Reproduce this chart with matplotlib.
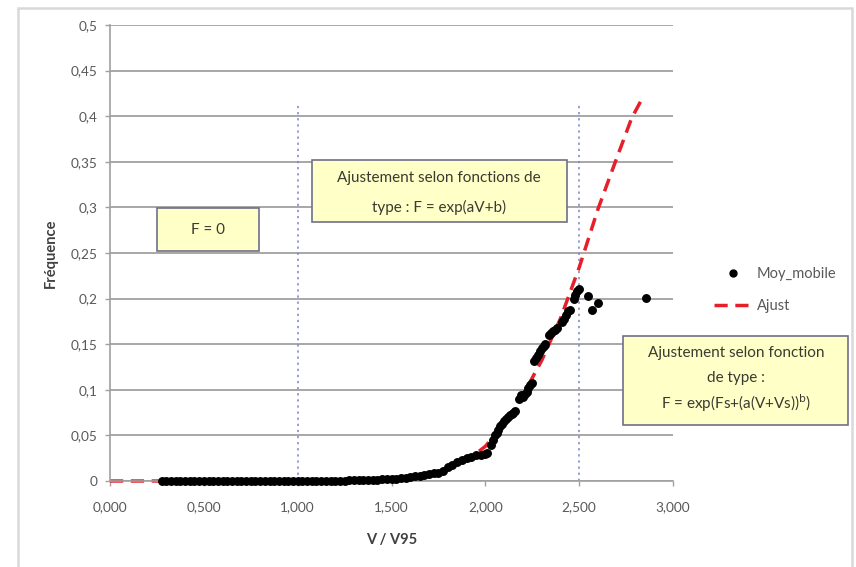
import matplotlib
matplotlib.use("Agg")
import matplotlib.pyplot as plt
from matplotlib.patches import Rectangle
from matplotlib.lines import Line2D

plt.rcParams['font.family'] = ['Lato', 'DejaVu Sans']

# --- moving-average frequency (Moy_mobile) ---
moy_x = [0.275, 0.300, 0.325, 0.350, 0.375, 0.400, 0.425, 0.450, 0.475, 0.500,
         0.525, 0.550, 0.575, 0.600, 0.625, 0.650, 0.675, 0.700, 0.725, 0.750,
         0.775, 0.800, 0.825, 0.850, 0.875, 0.900, 0.925, 0.950, 0.975, 1.000,
         1.025, 1.050, 1.075, 1.100, 1.125, 1.150, 1.175, 1.200, 1.225, 1.250,
         1.275, 1.300, 1.325, 1.350, 1.375, 1.400, 1.425, 1.450, 1.475, 1.500,
         1.525, 1.550, 1.575, 1.600, 1.625, 1.650, 1.675, 1.700, 1.725, 1.750,
         1.775, 1.800, 1.825, 1.850, 1.875, 1.900, 1.925, 1.950, 1.975, 2.000,
         2.010, 2.030, 2.040, 2.050, 2.060, 2.070, 2.080, 2.090, 2.100, 2.110,
         2.120, 2.130, 2.140, 2.150, 2.160, 2.180, 2.190, 2.200, 2.210, 2.220,
         2.230, 2.240, 2.250, 2.260, 2.270, 2.280, 2.290, 2.300, 2.310, 2.320,
         2.340, 2.350, 2.360, 2.370, 2.380, 2.410, 2.420, 2.430, 2.440, 2.450,
         2.470, 2.480, 2.490, 2.500, 2.545, 2.570, 2.600, 2.855]
moy_y = [0.0, 0.0, 0.0, 0.0, 0.0, 0.0, 0.0, 0.0, 0.0, 0.0,
         0.0, 0.0, 0.0, 0.0, 0.0, 0.0, 0.0, 0.0, 0.0, 0.0,
         0.0, 0.0, 0.0, 0.0, 0.0, 0.0, 0.0, 0.0, 0.0, 0.0,
         0.0, 0.0, 0.0, 0.0, 0.0, 0.0, 0.0, 0.0003, 0.0004, 0.0005,
         0.0006, 0.0007, 0.0008, 0.0010, 0.0011, 0.0013, 0.0015, 0.0017, 0.0019, 0.0020,
         0.0025, 0.0030, 0.0035, 0.0040, 0.0050, 0.0060, 0.0070, 0.0080, 0.0085, 0.0090,
         0.0110, 0.0150, 0.0180, 0.0210, 0.0230, 0.0250, 0.0260, 0.0280, 0.0290, 0.0300,
         0.031, 0.040, 0.045, 0.050, 0.053, 0.056, 0.060, 0.063, 0.066, 0.068,
         0.070, 0.072, 0.073, 0.075, 0.077, 0.090, 0.094, 0.092, 0.095, 0.098,
         0.102, 0.105, 0.108, 0.132, 0.135, 0.138, 0.142, 0.146, 0.148, 0.150,
         0.160, 0.162, 0.164, 0.166, 0.168, 0.174, 0.178, 0.182, 0.186, 0.188,
         0.200, 0.204, 0.208, 0.210, 0.203, 0.188, 0.195, 0.201]

# --- fitted curve (Ajust) ---
ajust_x = [0.0, 0.5, 1.0, 1.2, 1.4, 1.6, 1.8, 1.9, 2.0, 2.1, 2.2, 2.3, 2.4,
           2.5, 2.6, 2.7, 2.78, 2.84]
ajust_y = [0.0, 0.0, 0.0, 0.0, 0.001, 0.004, 0.014, 0.022, 0.038, 0.062,
           0.094, 0.132, 0.178, 0.234, 0.298, 0.354, 0.398, 0.421]

x_ticks = [0.0, 0.5, 1.0, 1.5, 2.0, 2.5, 3.0]
x_tick_labels = ['0,000', '0,500', '1,000', '1,500', '2,000', '2,500', '3,000']
y_ticks = [0.0, 0.05, 0.1, 0.15, 0.2, 0.25, 0.3, 0.35, 0.4, 0.45, 0.5]
y_tick_labels = ['0', '0,05', '0,1', '0,15', '0,2', '0,25', '0,3', '0,35', '0,4', '0,45', '0,5']

zone_limits = [1.0, 2.5]

W, H = 856, 567
fig = plt.figure(figsize=(W / 100, H / 100), dpi=100)
ax = fig.add_axes([110 / W, 1 - 481 / H, (673 - 110) / W, (481 - 25) / H])

# outer chart frame
fig.patches.append(Rectangle((18 / W, -0.01), (852 - 18) / W, 1 - 8 / H + 0.01,
                             transform=fig.transFigure, fill=False,
                             edgecolor='#D9D9D9', linewidth=1.8))

grey = '#A0A0A0'
text_grey = '#595959'

ax.set_xlim(0, 3.0)
ax.set_ylim(0, 0.5)
ax.set_xticks(x_ticks)
ax.set_xticklabels(x_tick_labels)
ax.set_yticks(y_ticks)
ax.set_yticklabels(y_tick_labels)
ax.tick_params(axis='both', colors=grey, labelcolor=text_grey, labelsize=9.8,
               length=3.6, width=1.0)
ax.tick_params(axis='y', pad=5.5)
ax.tick_params(axis='x', pad=11)

ax.yaxis.grid(True, color=grey, linewidth=1.3)
ax.set_axisbelow(True)
for side in ['top', 'right']:
    ax.spines[side].set_visible(False)
for side in ['left', 'bottom']:
    ax.spines[side].set_color(grey)
    ax.spines[side].set_linewidth(1.2)

ax.set_xlabel('V / V95', fontsize=10.5, fontweight='bold', color='#404040', labelpad=14)
ax.set_ylabel('Fréquence', fontsize=10.5, fontweight='bold', color='#404040', labelpad=9)

# zone separators
for xv in zone_limits:
    ax.plot([xv, xv], [0, 0.415], color='#7C84C8', linewidth=1.1,
            linestyle=(0, (1.5, 2.5)), zorder=1.5)

red = '#E5202B'
ax.plot(ajust_x, ajust_y, color=red, linewidth=2.5, dashes=(3.8, 2.2),
        zorder=2, label='Ajust', clip_on=False)
ax.plot(moy_x, moy_y, linestyle='none', marker='o', markersize=5.4,
        color='black', zorder=3, label='Moy_mobile', clip_on=False)

# annotation boxes
box_face = '#FFFFC8'
box_edge = '#70708A'
text_col = '#3A3A30'


def px_to_data(px, py):
    return ax.transData.inverted().transform(
        fig.transFigure.transform((px / W, 1 - py / H)))


def draw_box(x0, y0, x1, y1):
    (dx0, dy0) = px_to_data(x0, y1)
    (dx1, dy1) = px_to_data(x1, y0)
    ax.add_patch(Rectangle((dx0, dy0), dx1 - dx0, dy1 - dy0, facecolor=box_face,
                           edgecolor=box_edge, linewidth=1.2, zorder=4,
                           clip_on=False))


def draw_line(px, py, s):
    dx, dy = px_to_data(px, py)
    ax.text(dx, dy, s, ha='center', va='center', fontsize=11, color=text_col,
            zorder=5, clip_on=False)


draw_box(157, 208, 259, 251)
draw_line(208, 230, 'F = 0')

draw_box(312, 160, 567, 222)
draw_line(439, 178, 'Ajustement selon fonctions de')
draw_line(439, 207, 'type : F = exp(aV+b)')

draw_box(623, 336, 848, 425)
draw_line(736, 353, 'Ajustement selon fonction')
draw_line(736, 378, 'de type :')
draw_line(736, 403, r'F = exp(Fs+(a(V+Vs))$^{\mathrm{b}}$)')

# legend
handles = [Line2D([], [], linestyle='none', marker='o', markersize=5.0, color='black'),
           Line2D([], [], color=red, linewidth=2.5, dashes=(3.8, 2.2))]
fig.legend(handles, ['Moy_mobile', 'Ajust'], loc='upper left',
           bbox_to_anchor=(714 / W, 1 - 267 / H), frameon=False,
           fontsize=10.5, labelcolor=text_grey, handlelength=2.6,
           handletextpad=0.35, labelspacing=1.22, borderpad=0, borderaxespad=0)

fig.savefig('out.png', dpi=100)
